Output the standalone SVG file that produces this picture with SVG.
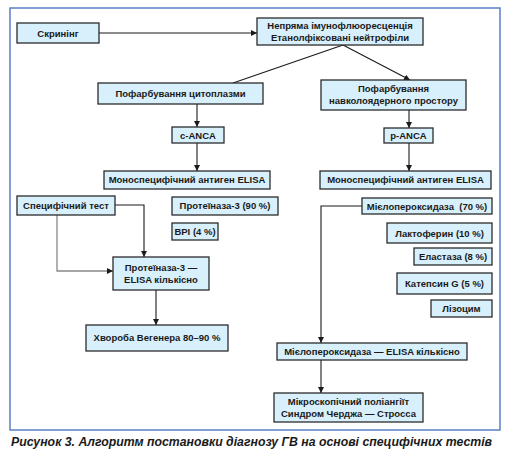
<svg xmlns="http://www.w3.org/2000/svg" width="510" height="456" viewBox="0 0 510 456">
<defs>
<style>
.n rect{fill:#d8f0fb;stroke:#2b2b2b;stroke-width:1.3}
.n text{font-family:"Liberation Sans",Arial,sans-serif;font-weight:bold;font-size:9.5px;fill:#1a1a1a;text-anchor:middle}
.c{fill:none;stroke:#1a1a1a;stroke-width:1.1}
.g{fill:none;stroke:#888;stroke-width:1.3}
</style>
<marker id="a" viewBox="0 0 10 10" refX="10" refY="5" markerWidth="6" markerHeight="6" orient="auto" markerUnits="userSpaceOnUse">
<path d="M0,0 L10,5 L0,10 z" fill="#1a1a1a"/>
</marker>
</defs>
<rect x="0" y="0" width="510" height="456" fill="#fff"/>
<rect x="10" y="8" width="490" height="422" fill="none" stroke="#5b7fc4" stroke-width="1.5"/>

<g id="connectors">
<line class="c" x1="99" y1="33" x2="257" y2="33" marker-end="url(#a)"/>
<line class="c" x1="343" y1="45" x2="233" y2="83"/>
<line class="c" x1="343" y1="45" x2="410" y2="80" marker-end="url(#a)"/>
<line class="c" x1="197" y1="104" x2="197" y2="127" marker-end="url(#a)"/>
<line class="c" x1="197" y1="143" x2="197" y2="171" marker-end="url(#a)"/>
<line class="c" x1="409" y1="110" x2="409" y2="128" marker-end="url(#a)"/>
<line class="c" x1="409" y1="143" x2="409" y2="171" marker-end="url(#a)"/>
<polyline class="c" points="115,205 144,205 144,257" marker-end="url(#a)"/>
<polyline class="g" points="57,215 57,271 113,271" marker-end="url(#a)"/>
<line class="c" x1="156" y1="290" x2="156" y2="325" marker-end="url(#a)"/>
<polyline class="c" points="362,206 321,206 321,343" marker-end="url(#a)"/>
<line class="c" x1="321" y1="360" x2="321" y2="393" marker-end="url(#a)"/>
</g>

<g id="screening" class="n"><rect x="17" y="23" width="82" height="20"/><text x="58" y="36.5">Скринінг</text></g>
<g id="ifa" class="n"><rect x="257" y="18" width="166" height="27"/><text x="340" y="29">Непряма імунофлюоресценція</text><text x="340" y="40.5">Етанолфіксовані нейтрофіли</text></g>
<g id="cyto" class="n"><rect x="98" y="83" width="165" height="21"/><text x="180.5" y="96.8">Пофарбування цитоплазми</text></g>
<g id="peri" class="n"><rect x="321" y="80" width="145" height="30"/><text x="393.5" y="92">Пофарбування</text><text x="393.5" y="104">навколоядерного простору</text></g>
<g id="canca" class="n"><rect x="172" y="127" width="52" height="16"/><text x="198" y="138.5">c-ANCA</text></g>
<g id="panca" class="n"><rect x="384" y="128" width="49" height="15"/><text x="408.5" y="138.8">p-ANCA</text></g>
<g id="elisa1" class="n"><rect x="104" y="171" width="166" height="18"/><text x="187" y="183.3">Моноспецифічний антиген ELISA</text></g>
<g id="elisa2" class="n"><rect x="320" y="171" width="171" height="18"/><text x="405.5" y="183.3">Моноспецифічний антиген ELISA</text></g>
<g id="spec" class="n"><rect x="17" y="196" width="98" height="19"/><text x="66" y="208.8">Специфічний тест</text></g>
<g id="pr3" class="n"><rect x="172" y="197" width="106" height="18"/><text x="225" y="209.3">Протеїназа-3 (90 %)</text></g>
<g id="bpi" class="n"><rect x="172" y="223" width="46" height="17"/><text x="195" y="234.8">BPI (4 %)</text></g>
<g id="mpo" class="n"><rect x="362" y="198" width="130" height="16"/><text x="427" y="209.5">Мієлопероксидаза&#160; (70 %)</text></g>
<g id="lf" class="n"><rect x="387" y="223" width="105" height="20"/><text x="439.5" y="236.5">Лактоферин (10 %)</text></g>
<g id="el" class="n"><rect x="414" y="248" width="78" height="17"/><text x="453" y="259.8">Еластаза (8 %)</text></g>
<g id="cat" class="n"><rect x="397" y="273" width="95" height="21"/><text x="444.5" y="286.8">Катепсин G (5 %)</text></g>
<g id="lys" class="n"><rect x="431" y="300" width="61" height="17"/><text x="461.5" y="311.8">Лізоцим</text></g>
<g id="pr3q" class="n"><rect x="113" y="257" width="96" height="33"/><text x="161" y="270.5">Протеїназа-3 —</text><text x="161" y="282.5">ELISA кількісно</text></g>
<g id="wg" class="n"><rect x="86" y="325" width="142" height="26"/><text x="157" y="341.3">Хвороба Вегенера 80–90 %</text></g>
<g id="mpoq" class="n"><rect x="277" y="343" width="190" height="17"/><text x="372" y="355">Мієлопероксидаза — ELISA кількісно</text></g>
<g id="mpa" class="n"><rect x="274" y="393" width="149" height="29"/><text x="348.5" y="404.5">Мікроскопічний поліангіїт</text><text x="348.5" y="416.5">Синдром Черджа — Стросса</text></g>

<text x="11" y="446" font-family="'Liberation Sans',Arial,sans-serif" font-weight="bold" font-style="italic" font-size="12" fill="#1a1a1a" textLength="481" lengthAdjust="spacingAndGlyphs">Рисунок 3. Алгоритм постановки діагнозу ГВ на основі специфічних тестів</text>
</svg>
